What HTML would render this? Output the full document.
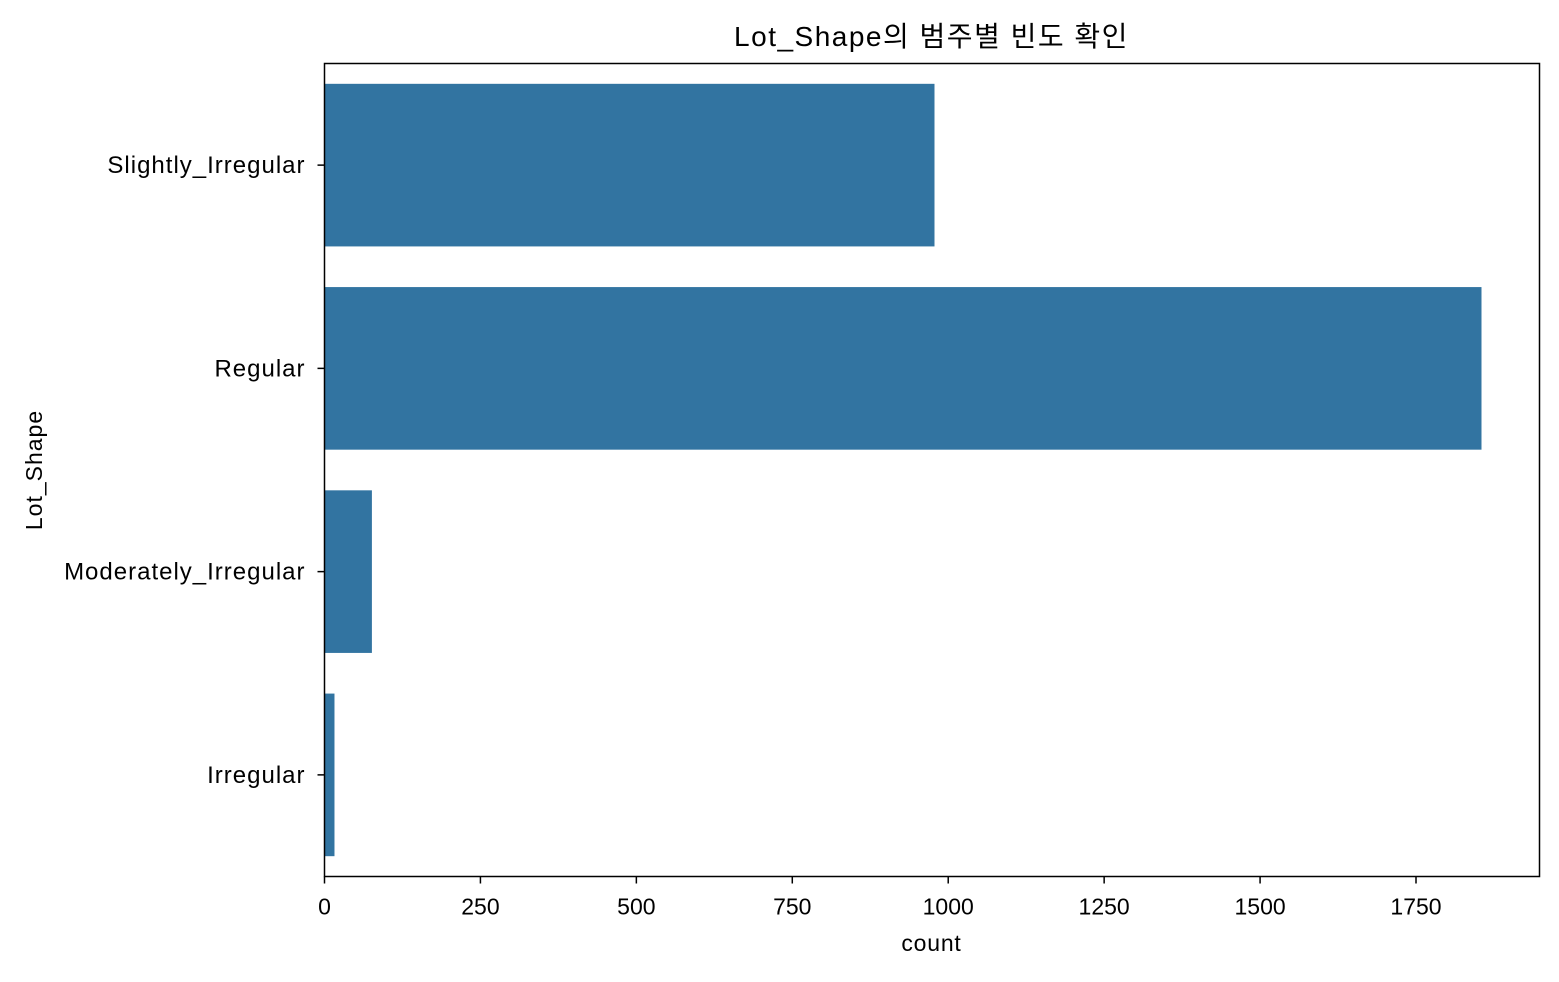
<!DOCTYPE html>
<html><head><meta charset="utf-8">
<style>
html,body{margin:0;padding:0;background:#fff;}
svg text{font-family:"Liberation Sans","Noto Sans CJK KR",sans-serif;fill:#000;}
</style></head>
<body>
<svg id="chart" width="1559" height="977" xmlns="http://www.w3.org/2000/svg">
<text x="931.5" y="46" font-size="28" letter-spacing="1.5" text-anchor="middle">Lot_Shape의 범주별 빈도 확인</text>
<g id="bars"></g>
<g id="xticks"></g>
<g id="yticks"></g>
<rect x="324.5" y="63.5" width="1215" height="813" fill="none" stroke="#000" stroke-width="1.5"/>
<text x="931.5" y="951" font-size="23" letter-spacing="0.8" text-anchor="middle">count</text>
<text x="0" y="0" font-size="23" letter-spacing="1" text-anchor="middle" transform="translate(42,470) rotate(-90)">Lot_Shape</text>
</svg>
<script>
const categories = ["Slightly_Irregular","Regular","Moderately_Irregular","Irregular"];
const counts = [978, 1855, 76, 16];
const xTicks = [0,250,500,750,1000,1250,1500,1750];
const X0=324.5, X1=1539.5, Y0=63.5, Y1=876.5, XMAX=1948;
function x(v){return X0+(v/XMAX)*(X1-X0);}
const band=(Y1-Y0)/categories.length;
function yc(i){return Y0+band*(i+0.5);}
const ns="http://www.w3.org/2000/svg";
const bars=document.getElementById('bars'), xt=document.getElementById('xticks'), yt=document.getElementById('yticks');
categories.forEach((c,i)=>{
  const r=document.createElementNS(ns,'rect');
  
  
  r.setAttribute('x',x(0));r.setAttribute('width',x(counts[i])-x(0));
  r.setAttribute('y',yc(i)-band*0.4);r.setAttribute('height',band*0.8);
  r.setAttribute('fill','#3274a1');
  bars.appendChild(r);
  const l=document.createElementNS(ns,'line');
  
  
  l.setAttribute('x1',X0-7);l.setAttribute('x2',X0);l.setAttribute('y1',yc(i));l.setAttribute('y2',yc(i));
  l.setAttribute('stroke','#000');l.setAttribute('stroke-width','1.5');
  yt.appendChild(l);
  const t=document.createElementNS(ns,'text');
  
  
  t.setAttribute('x',X0-19);t.setAttribute('y',yc(i)+8);t.setAttribute('font-size','24');t.setAttribute('letter-spacing','1');t.setAttribute('text-anchor','end');
  t.textContent=c; yt.appendChild(t);
});
xTicks.forEach(v=>{
  const l=document.createElementNS(ns,'line');
  
  
  l.setAttribute('x1',x(v));l.setAttribute('x2',x(v));l.setAttribute('y1',Y1);l.setAttribute('y2',Y1+7);
  l.setAttribute('stroke','#000');l.setAttribute('stroke-width','1.5');
  xt.appendChild(l);
  const t=document.createElementNS(ns,'text');
  
  
  t.setAttribute('x',x(v));t.setAttribute('y',Y1+38);t.setAttribute('font-size','23');t.setAttribute('text-anchor','middle');
  t.textContent=v; xt.appendChild(t);
});
</script>
</body></html>
